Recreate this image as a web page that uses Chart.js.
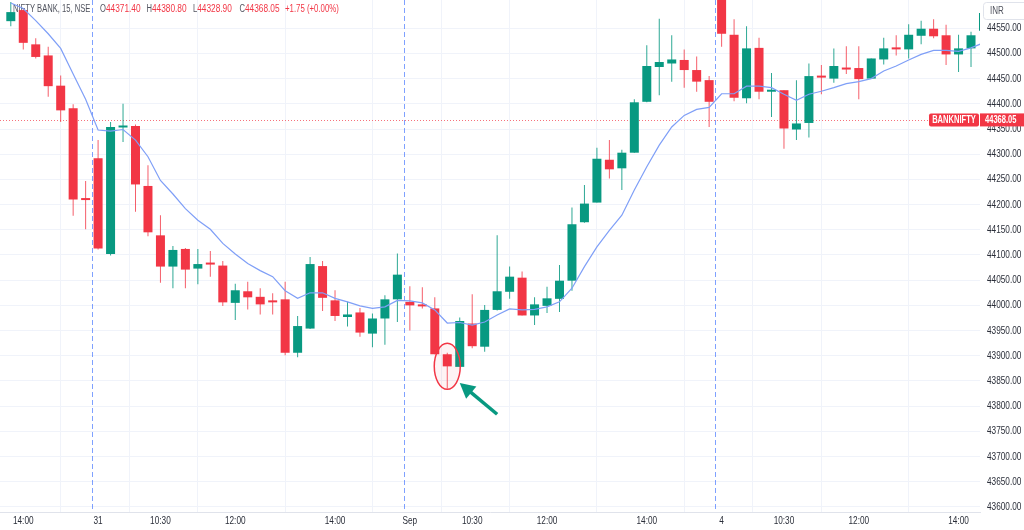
<!DOCTYPE html>
<html><head><meta charset="utf-8">
<script src="https://cdn.jsdelivr.net/npm/chart.js@4.4.1/dist/chart.umd.min.js"></script>
<style>html,body{margin:0;padding:0;background:#fff;overflow:hidden}#wrap{width:1024px;height:530px;position:relative}</style>
</head><body><div id="wrap"><canvas id="c"></canvas></div>
<script>
// 15-minute candles, Aug 30 13:45 -> Sep 4 14:30 (index 0..78)
const opens  = [44564,44586,44518,44496,44436,44391,44211,44292,44102,44353,44356,44237,44139,44077,44112,44073,44084,44079,44005,44028,44017,44008,44012,43906,43954,44078,44010,43977,43986,43944,43974,44012,44007,44000,43994,43903,43878,43964,43918,43991,44027,44055,43980,43999,44013,44049,44165,44204,44289,44272,44303,44404,44473,44480,44487,44467,44447,44615,44537,44411,44511,44424,44427,44349,44362,44454,44450,44471,44471,44450,44488,44510,44508,44535,44549,44536,44498,44510,44545];
const highs  = [44602,44588,44530,44513,44456,44399,44247,44328,44364,44400,44359,44278,44179,44118,44114,44112,44108,44088,44043,44047,44034,44024,44047,43979,44096,44088,44030,44007,43995,43984,44020,44103,44038,44036,44016,43906,43976,44022,44001,44139,44077,44067,44016,44037,44080,44194,44239,44313,44328,44309,44409,44516,44569,44536,44508,44494,44455,44640,44568,44554,44531,44461,44427,44447,44480,44477,44510,44514,44514,44490,44531,44536,44558,44565,44568,44557,44537,44543,44586];
const lows   = [44554,44508,44490,44414,44364,44178,44151,44111,44099,44324,44186,44137,44045,44034,44034,44042,44057,43999,43971,43992,43982,43982,43901,43897,43953,43989,43969,43958,43938,43917,43922,43967,43950,43994,43903,43835,43878,43915,43908,43990,44013,43980,43961,43985,43987,44029,44164,44204,44252,44229,44303,44403,44417,44444,44432,44424,44354,44513,44405,44401,44409,44374,44311,44328,44333,44419,44442,44459,44409,44449,44478,44496,44490,44518,44530,44477,44463,44473,44540];
const closes = [44582,44521,44493,44435,44387,44210,44209,44113,44354,44355,44240,44145,44077,44110,44071,44082,44081,44006,44030,44016,44002,44006,43906,43959,44082,44015,43979,43982,43946,43974,44012,44061,44000,43998,43903,43879,43969,43919,43991,44028,44057,43980,44002,44014,44049,44161,44202,44291,44270,44303,44403,44475,44483,44488,44467,44444,44404,44539,44412,44510,44424,44426,44351,44361,44455,44452,44475,44468,44449,44490,44510,44508,44537,44549,44534,44498,44510,44536,44580];
const maValues = [44600,44589,44565,44539,44510,44459,44409,44348,44346,44349,44328,44295,44248,44221,44192,44169,44151,44123,44102,44083,44069,44057,44029,44014,44025,44025,44014,44007,43999,43994,43997,44010,44009,44005,43991,43965,43966,43961,43967,43981,43993,43991,43992,43997,44007,44034,44077,44116,44149,44179,44229,44275,44318,44354,44377,44389,44393,44420,44420,44435,44435,44432,44419,44407,44419,44425,44432,44440,44444,44450,44465,44475,44487,44498,44506,44506,44504,44511,44521];
const xTickIndex  = [1,7,12,18,26,32,37,43,51,57,62,68,76];
const xTickLabels = ['14:00','31','10:30','12:00','14:00','Sep','10:30','12:00','14:00','4','10:30','12:00','14:00'];
const yTicks = [43600,43650,43700,43750,43800,43850,43900,43950,44000,44050,44100,44150,44200,44250,44300,44350,44400,44450,44500,44550];
const sessionBreaks = [6.5,31.5,56.5];
const lastPrice = 44368.05;
const headerName = 'NIFTY BANK, 15, NSE';
const headerOHLC = [['O','44371.40'],['H','44380.80'],['L','44328.90'],['C','44368.05']];
const headerChange = '+1.75 (+0.00%)';
const symbolTag = 'BANKNIFTY';
const currencyTag = 'INR';
const markedCandle = 35;
const arrowFrom = {x:39.0, y:43784};
const arrowTo   = {x:36.0, y:43846};

const UP = '#089981', DOWN = '#f23645';
const idx = opens.map((_, i) => i);
const cols = idx.map(i => closes[i] >= opens[i] ? UP : DOWN);
const wickData = idx.map(i => ({x: i, y: [lows[i], highs[i]]}));
const bodyData = idx.map(i => ({x: i, y: [Math.min(opens[i], closes[i]), Math.max(opens[i], closes[i])]}));
const maData = idx.map(i => ({x: i, y: maValues[i]}));

const FONT = '"Liberation Sans", Arial, sans-serif';
function sq(ctx, text, x, y, align, sx) {
  ctx.save(); ctx.translate(x, y); ctx.scale(sx, 1); ctx.textAlign = align; ctx.fillText(text, 0, 0); ctx.restore();
}
function rrect(ctx, x, y, w, h, r) {
  ctx.beginPath(); ctx.moveTo(x + r, y); ctx.lineTo(x + w - r, y); ctx.quadraticCurveTo(x + w, y, x + w, y + r);
  ctx.lineTo(x + w, y + h - r); ctx.quadraticCurveTo(x + w, y + h, x + w - r, y + h); ctx.lineTo(x + r, y + h);
  ctx.quadraticCurveTo(x, y + h, x, y + h - r); ctx.lineTo(x, y + r); ctx.quadraticCurveTo(x, y, x + r, y); ctx.closePath();
}

const decor = {
  id: 'decor',
  beforeDatasetsDraw(chart) {
    const ctx = chart.ctx, xs = chart.scales.x, ys = chart.scales.y, ca = chart.chartArea;
    ctx.save();
    ctx.strokeStyle = 'rgba(41,98,255,0.6)'; ctx.lineWidth = 1; ctx.setLineDash([5, 3]);
    sessionBreaks.forEach(v => { const x = Math.round(xs.getPixelForValue(v)) + 0.5; ctx.beginPath(); ctx.moveTo(x, ca.top); ctx.lineTo(x, ca.bottom); ctx.stroke(); });
    const py = Math.round(ys.getPixelForValue(lastPrice)) + 0.5;
    ctx.strokeStyle = 'rgba(242,54,69,0.7)'; ctx.setLineDash([1, 2]);
    ctx.beginPath(); ctx.moveTo(ca.left, py); ctx.lineTo(ca.right, py); ctx.stroke();
    ctx.setLineDash([]);
    ctx.font = '10px ' + FONT; ctx.textBaseline = 'middle';
    ctx.fillStyle = '#50535e'; sq(ctx, headerName, 13, 9.5, 'left', 0.76);
    let x = 100;
    headerOHLC.forEach(([k, v]) => {
      ctx.fillStyle = '#50535e'; sq(ctx, k, x, 9.5, 'left', 0.76);
      const kw = ctx.measureText(k).width * 0.76;
      ctx.fillStyle = DOWN; sq(ctx, v, x + kw, 9.5, 'left', 0.83);
      x += 46.5;
    });
    ctx.fillStyle = DOWN; sq(ctx, headerChange, 285, 9.5, 'left', 0.78);
    ctx.restore();
  },
  afterDatasetsDraw(chart) {
    const ctx = chart.ctx, xs = chart.scales.x, ys = chart.scales.y;
    ctx.save();
    const cx = xs.getPixelForValue(markedCandle), cy = ys.getPixelForValue(43879);
    ctx.beginPath(); ctx.ellipse(cx, cy, 13, 23, 0, 0, Math.PI * 2);
    ctx.fillStyle = 'rgba(242,54,69,0.06)'; ctx.fill();
    ctx.strokeStyle = DOWN; ctx.lineWidth = 1.5; ctx.stroke();
    const x1 = xs.getPixelForValue(arrowFrom.x), y1 = ys.getPixelForValue(arrowFrom.y);
    const x2 = xs.getPixelForValue(arrowTo.x), y2 = ys.getPixelForValue(arrowTo.y);
    const dx = x2 - x1, dy = y2 - y1, L = Math.hypot(dx, dy), ux = dx / L, uy = dy / L;
    const hl = 15, hw = 8;
    const bx = x2 - ux * hl, by = y2 - uy * hl;
    ctx.strokeStyle = UP; ctx.fillStyle = UP; ctx.lineWidth = 3.5; ctx.lineCap = 'butt';
    ctx.beginPath(); ctx.moveTo(x1, y1); ctx.lineTo(bx + ux * 2, by + uy * 2); ctx.stroke();
    ctx.beginPath(); ctx.moveTo(x2, y2); ctx.lineTo(bx - uy * hw, by + ux * hw); ctx.lineTo(bx + uy * hw, by - ux * hw); ctx.closePath(); ctx.fill();
    ctx.restore();
  },
  afterDraw(chart) {
    const ctx = chart.ctx, xs = chart.scales.x, ys = chart.scales.y, ca = chart.chartArea;
    ctx.save();
    ctx.font = '11px ' + FONT; ctx.textBaseline = 'middle'; ctx.fillStyle = '#2a2e39';
    yTicks.forEach(v => sq(ctx, v.toFixed(2), ca.right + 7, ys.getPixelForValue(v), 'left', 0.75));
    xTickIndex.forEach((v, k) => sq(ctx, xTickLabels[k], xs.getPixelForValue(v), 520.5, 'center', 0.75));
    ctx.fillStyle = '#fff'; ctx.strokeStyle = '#e0e3eb'; ctx.lineWidth = 1;
    rrect(ctx, ca.right + 3.5, 2.5, 44, 17, 3); ctx.fill(); ctx.stroke();
    ctx.fillStyle = '#50535e'; ctx.font = '10px ' + FONT;
    sq(ctx, currencyTag, ca.right + 10, 11, 'left', 0.8);
    const py = ys.getPixelForValue(lastPrice);
    ctx.fillStyle = DOWN;
    ctx.fillRect(ca.right, py - 6.5, chart.width - ca.right, 13);
    rrect(ctx, ca.right - 51, py - 6.5, 50, 13, 2); ctx.fill();
    ctx.fillStyle = '#fff'; ctx.font = 'bold 10.5px ' + FONT;
    sq(ctx, lastPrice.toFixed(2), ca.right + 5, py + 0.5, 'left', 0.72);
    sq(ctx, symbolTag, ca.right - 26, py + 0.5, 'center', 0.72);
    ctx.restore();
  }
};

new Chart(document.getElementById('c'), {
  data: {
    datasets: [
      {type: 'line', data: maData, borderColor: '#7f9ff7', borderWidth: 1.2, pointRadius: 0, tension: 0, order: 0},
      {type: 'bar', data: bodyData, backgroundColor: cols, borderWidth: 0, barThickness: 9, minBarLength: 2, grouped: false, inflateAmount: 0, order: 1},
      {type: 'bar', data: wickData, backgroundColor: cols.map(c => c === UP ? 'rgba(8,153,129,0.85)' : 'rgba(242,54,69,0.8)'), borderWidth: 0, barThickness: 1, grouped: false, inflateAmount: 0, order: 2}
    ]
  },
  options: {
    responsive: true, maintainAspectRatio: false, animation: false, devicePixelRatio: 1,
    layout: {padding: 0},
    plugins: {legend: {display: false}, tooltip: {enabled: false}},
    scales: {
      x: {
        type: 'linear', min: -0.866, max: 77.72, offset: false,
        afterBuildTicks: s => { s.ticks = xTickIndex.map(v => ({value: v})); },
        afterFit: s => { s.height = 18; },
        ticks: {display: false},
        grid: {color: '#f0f3fa', drawTicks: false},
        border: {display: true, color: '#e0e3eb'}
      },
      y: {
        type: 'linear', position: 'right', min: 43590, max: 44606,
        afterBuildTicks: s => { s.ticks = yTicks.map(v => ({value: v})); },
        afterFit: s => { s.width = 44; },
        ticks: {display: false},
        grid: {color: '#f0f3fa', drawTicks: false},
        border: {display: false}
      }
    }
  },
  plugins: [decor]
});
</script>
</body></html>
